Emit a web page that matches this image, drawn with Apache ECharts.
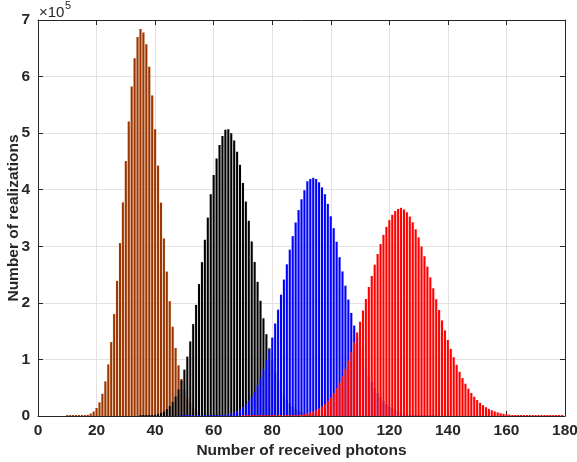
<!DOCTYPE html>
<html><head><meta charset="utf-8">
<script src="https://cdn.jsdelivr.net/npm/echarts@6/dist/echarts.min.js"></script>
<style>html,body{margin:0;padding:0;background:#fff}#c{width:577px;height:462px}</style>
</head><body><div id="c"></div>
<script>
// Number of received photons (x) -> number of realizations, in units of 10^5
const brownStart = 10;
const brownCounts = [0.0001,0.0001,0.0002,0.0007,0.0019,0.0045,0.0099,0.0210,0.0417,0.0787,
  0.141,0.241,0.392,0.611,0.912,1.307,1.801,2.389,3.056,3.775,
  4.506,5.206,5.826,6.323,6.70,6.84,6.78,6.57,6.174,5.666,
  5.070,4.426,3.771,3.138,2.552,2.029,1.578,1.201,0.896,0.654,
  0.468,0.328,0.226,0.153,0.101,0.0657,0.0420,0.0263,0.0162,0.0098,
  0.0059,0.0035,0.0021,0.0012];

const blackStart = 35;
const blackCounts = [0.0014,0.0026,0.0046,0.0079,0.0133,0.0217,0.0345,0.0537,0.0815,0.1209,
  0.1754,0.249,0.346,0.471,0.628,0.820,1.050,1.318,1.624,1.964,
  2.332,2.719,3.115,3.507,3.92,4.26,4.55,4.79,4.95,5.06,
  5.07,5.00,4.87,4.67,4.44,4.12,3.79,3.450,3.086,2.723,
  2.371,2.037,1.727,1.446,1.195,0.975,0.786,0.626,0.4925,0.3829,
  0.2941,0.2233,0.1676,0.1244,0.0913,0.0662,0.0475,0.0337,0.0237,0.0165,
  0.0114,0.0078,0.0052,0.0035,0.0023,0.0015];

const blueStart = 49;
const blueCounts = [0.0001,0.0001,0.0002,0.0002,0.0003,0.0004,0.0006,0.0009,0.0012,0.0017,
  0.0025,0.0039,0.0061,0.0092,0.0137,0.0202,0.0292,0.0417,0.0587,0.0814,
  0.1112,0.1497,0.1988,0.2604,0.3364,0.4289,0.5396,0.6700,0.8216,0.9943,
  1.17,1.385,1.635,1.88,2.144,2.411,2.681,2.94,3.18,3.42,
  3.64,3.83,3.99,4.15,4.19,4.21,4.19,4.13,4.04,3.92,
  3.75,3.53,3.32,3.08,2.806,2.555,2.304,2.058,1.822,1.598,
  1.389,1.195,1.020,0.863,0.723,0.601,0.495,0.405,0.328,0.263,
  0.210,0.166,0.130,0.101,0.0777,0.0594,0.0451,0.0339,0.0253,0.0188,
  0.0139,0.0102,0.0074,0.0053,0.0038,0.0027,0.0019];

const redStart = 70;
const redCounts = [0.0001,0.0001,0.0001,0.0001,0.0001,0.0001,0.0001,0.0002,0.0003,0.0005,
  0.0007,0.0010,0.0015,0.0021,0.0030,0.0043,0.0062,0.0089,0.0125,0.0174,
  0.0239,0.0325,0.0438,0.0584,0.0770,0.1005,0.1298,0.1659,0.2100,0.2631,
  0.3264,0.4009,0.4877,0.5876,0.701,0.829,0.971,1.127,1.296,1.476,
  1.666,1.864,2.067,2.28,2.476,2.674,2.864,3.041,3.202,3.343,
  3.462,3.556,3.623,3.661,3.68,3.650,3.601,3.525,3.424,3.300,
  3.156,2.996,2.823,2.640,2.450,2.257,2.064,1.874,1.689,1.512,
  1.344,1.186,1.039,0.904,0.781,0.670,0.571,0.4834,0.4065,0.3396,
  0.2818,0.2323,0.1902,0.1548,0.1251,0.1005,0.0802,0.0636,0.0501,0.0392,
  0.0305,0.0236,0.0182,0.0139,0.0106,0.0080,0.0060,0.0045,0.0033,0.0025,
  0.0018,0.0013,0.0010,0.0007,0.0005,0.0003,0.0002,0.0002,0.0001,0.0001];

const xMin = 0, xMax = 180, xStep = 20;
const yMin = 0, yMax = 7, yStep = 1;
const xName = 'Number of received photons';
const yName = 'Number of realizations';

const seriesDefs = [
  {start: brownStart, counts: brownCounts, color: '#9c3500', fill: '#e8c0a0'},
  {start: blackStart, counts: blackCounts, color: '#000000', fill: '#c8c8c8'},
  {start: blueStart,  counts: blueCounts,  color: '#0000ff', fill: '#b8b8ff'},
  {start: redStart,   counts: redCounts,   color: '#ff0000', fill: '#ffb8b8'}
];

const FONT = '"Liberation Sans", Arial, Helvetica, sans-serif';
const AX = '#262626';

function toData(start, arr) { return arr.map((v, i) => [start + i, v]); }

const series = [];
seriesDefs.forEach(d => {
  const data = toData(d.start, d.counts);
  series.push({type: 'bar', xAxisIndex: 1, yAxisIndex: 0, data, barWidth: 2.9, barGap: '-100%',
    silent: true, itemStyle: {color: d.fill, opacity: 0.5}});
  series.push({type: 'bar', xAxisIndex: 0, yAxisIndex: 0, data, barWidth: 2, barGap: '-100%',
    barMinHeight: 1, silent: true, itemStyle: {color: d.color}});
});

const labelStyle = {fontFamily: FONT, fontWeight: 'bold', fontSize: 15.5, color: AX};
const lineStyle = {color: AX, width: 1};

const chart = echarts.init(document.getElementById('c'), null, {renderer: 'canvas'});
chart.setOption({
  animation: false,
  grid: {left: 38, right: 12, top: 20, bottom: 46, containLabel: false, outerBoundsMode: 'none'},
  xAxis: [
    {type: 'value', min: xMin, max: xMax, interval: xStep, position: 'bottom',
      name: xName, nameLocation: 'middle', nameGap: 27, nameMoveOverlap: false, nameTextStyle: labelStyle,
      axisLine: {show: true, onZero: false, lineStyle},
      axisTick: {show: true, inside: true, length: 5, lineStyle},
      axisLabel: Object.assign({margin: 7}, labelStyle),
      splitLine: {show: true, lineStyle: {color: '#e2e2e2', width: 1}}},
    {type: 'value', min: xMin, max: xMax, interval: xStep, position: 'top',
      axisLine: {show: true, onZero: false, lineStyle},
      axisTick: {show: true, inside: true, length: 5, lineStyle},
      axisLabel: {show: false}, splitLine: {show: false}}
  ],
  yAxis: [
    {type: 'value', min: yMin, max: yMax, interval: yStep, position: 'left',
      name: yName, nameLocation: 'middle', nameGap: 16, nameMoveOverlap: false, nameRotate: 90, nameTextStyle: labelStyle,
      axisLine: {show: true, onZero: false, lineStyle},
      axisTick: {show: true, inside: true, length: 5, lineStyle},
      axisLabel: Object.assign({margin: 8}, labelStyle),
      splitLine: {show: true, lineStyle: {color: '#e2e2e2', width: 1}}},
    {type: 'value', min: yMin, max: yMax, interval: yStep, position: 'right',
      axisLine: {show: true, onZero: false, lineStyle},
      axisTick: {show: true, inside: true, length: 5, lineStyle},
      axisLabel: {show: false}, splitLine: {show: false}}
  ],
  graphic: [
    {type: 'text', left: 39, top: 5, style: {text: '\u00d710', font: '15px ' + FONT, fill: AX}},
    {type: 'text', left: 65, top: 0, style: {text: '5', font: '11px ' + FONT, fill: AX}}
  ],
  series
});
</script></body></html>
